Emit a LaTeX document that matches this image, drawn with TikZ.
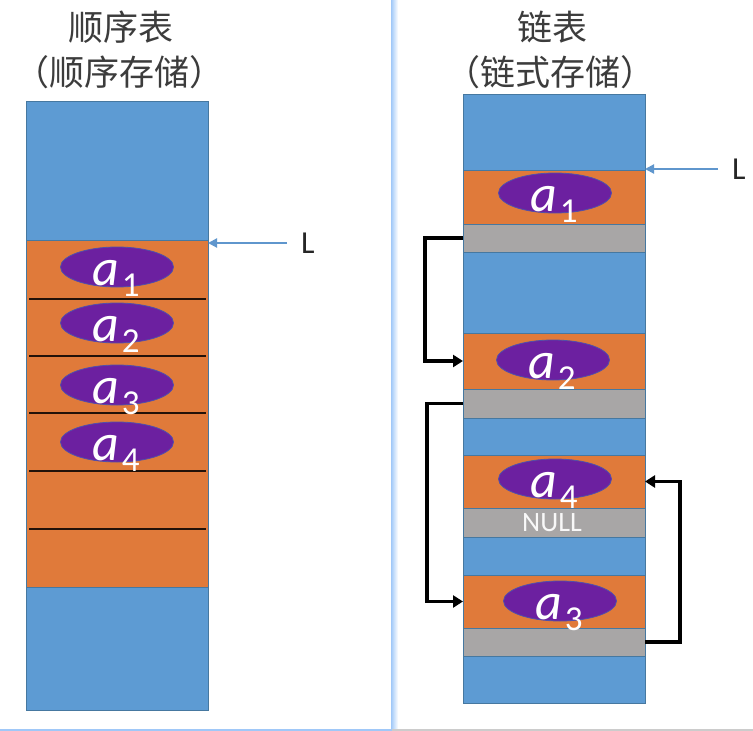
\documentclass[tikz,border=0pt]{standalone}
\usepackage{fontspec}
\usetikzlibrary{arrows.meta,shapes.geometric,calc}
\newfontfamily\cjk{Noto Sans CJK SC}
\newfontfamily\cali{Carlito}
\definecolor{blueC}{RGB}{93,155,211}
\definecolor{orangeC}{RGB}{224,122,58}
\definecolor{grayC}{RGB}{168,166,166}
\definecolor{borderC}{RGB}{70,120,160}
\definecolor{purpC}{RGB}{108,32,160}
\definecolor{purpB}{RGB}{80,80,170}
\definecolor{arrC}{RGB}{95,150,205}
\definecolor{sepC}{RGB}{160,200,248}
\definecolor{titleC}{RGB}{60,60,60}
\newcommand{\elemtext}[1]{{\fontsize{52}{52}\selectfont\cali\itshape a}\kern3pt\raisebox{-11pt}{\fontsize{35}{35}\selectfont\cali #1}}
\begin{document}
\begin{tikzpicture}[x=1pt,y=-1pt,
  cell/.style={draw=borderC,line width=0.8pt,minimum width=182pt,inner sep=0pt,outer sep=0pt,anchor=north},
  bluecell/.style={cell,fill=blueC},
  orangecell/.style={cell,fill=orangeC},
  graycell/.style={cell,fill=grayC},
  elp/.style={ellipse,fill=purpC,draw=purpB,line width=0.8pt,minimum width=113pt,minimum height=40pt,inner sep=0pt},
  elabel/.style={anchor=base west,inner sep=0pt,text=white},
  title/.style={font=\cjk\fontsize{35}{35}\selectfont,text=titleC,inner sep=0pt},
  lnode/.style={font=\cali\fontsize{32}{32}\selectfont,text=black!85,inner xsep=14pt,inner ysep=0pt,anchor=west},
  larrow/.style={draw=arrC,line width=2pt,-{Triangle[length=9pt,width=9pt]}},
  link/.style={draw=black,line width=3.5pt,-{Triangle[length=10pt,width=12pt]}},
  sepline/.style={draw=black!85!orangeC,line width=1.8pt}
]
\useasboundingbox (0,0) rectangle (753,731);
\fill[white] (0,0) rectangle (753,731);
% separator and bottom lines
\shade[left color=sepC,right color=white] (391,0) rectangle (398,731);
\fill[sepC] (0,729) rectangle (392,731);
\fill[black!20] (392,729) rectangle (753,731);

% titles
\node[title] (t1) at (121,27) {顺序表};
\node[title] (t2) at (120,72) {（顺序存储）};
\node[title] (t3) at (552,27) {链表};
\node[title] (t4) at (550,72) {（链式存储）};

% left column
\node[bluecell,minimum height=139pt] (lb1) at (117,101) {};
\node[orangecell,minimum height=347pt] (lo) at (117,240) {};
\node[bluecell,minimum height=123pt] (lb2) at (117,587) {};
\foreach \yy in {299,356,413,471,529} \draw[sepline] (29,\yy) -- (206,\yy);

\node[elp] (le1) at (117,267) {};
\node[elp] (le2) at (117,323) {};
\node[elp] (le3) at (117,385) {};
\node[elp] (le4) at (117,442) {};
\node[elabel] (ll1) at ([xshift=-25pt,yshift=-18pt]le1.center) {\elemtext{1}};
\node[elabel] (ll2) at ([xshift=-25pt,yshift=-18pt]le2.center) {\elemtext{2}};
\node[elabel] (ll3) at ([xshift=-25pt,yshift=-18pt]le3.center) {\elemtext{3}};
\node[elabel] (ll4) at ([xshift=-25pt,yshift=-18pt]le4.center) {\elemtext{4}};

\node[lnode] (Ll) at (287,243) {L};
\draw[larrow] (Ll.west) -- (Ll.west -| lo.east);

% right column
\node[bluecell,minimum height=76pt] (rb0) at (554,94) {};
\node[orangecell,minimum height=54pt] (ro1) at (554,170) {};
\node[graycell,minimum height=28pt] (rg1) at (554,224) {};
\node[bluecell,minimum height=81pt] (rb1) at (554,252) {};
\node[orangecell,minimum height=56pt] (ro2) at (554,333) {};
\node[graycell,minimum height=29pt] (rg2) at (554,389) {};
\node[bluecell,minimum height=37pt] (rb2) at (554,418) {};
\node[orangecell,minimum height=53pt] (ro4) at (554,455) {};
\node[graycell,minimum height=29pt] (rg4) at (554,508) {};
\node[bluecell,minimum height=38pt] (rb3) at (554,537) {};
\node[orangecell,minimum height=53pt] (ro3) at (554,575) {};
\node[graycell,minimum height=28pt] (rg3) at (554,628) {};
\node[bluecell,minimum height=47pt] (rb4) at (554,656) {};

\node[elp] (re1) at (555,193) {};
\node[elp] (re2) at (553,360) {};
\node[elp] (re4) at (555,479) {};
\node[elp] (re3) at (560,601) {};
\node[elabel] (rl1) at ([xshift=-25pt,yshift=-18pt]re1.center) {\elemtext{1}};
\node[elabel] (rl2) at ([xshift=-25pt,yshift=-18pt]re2.center) {\elemtext{2}};
\node[elabel] (rl4) at ([xshift=-25pt,yshift=-18pt]re4.center) {\elemtext{4}};
\node[elabel] (rl3) at ([xshift=-25pt,yshift=-18pt]re3.center) {\elemtext{3}};

\node[font=\cali\fontsize{28}{28}\selectfont,text=white!92!grayC,inner sep=0pt] (null) at (552,523) {NULL};

\node[lnode] (Lr) at (718,169) {L};
\draw[larrow] (Lr.west) -- (Lr.west -| ro1.east);

% links
\draw[link] (rg1.west) -- ++(-38,0) |- (ro2.west);
\draw[link] (rg2.west) -- ++(-36,0) |- (ro3.west);
\draw[link] (rg3.east) -- ++(35,0) |- (ro4.east);
\end{tikzpicture}
\end{document}
